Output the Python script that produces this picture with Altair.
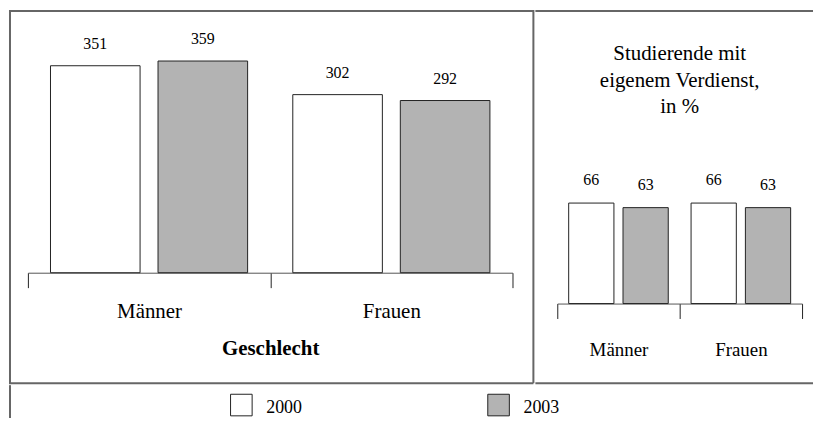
import altair as alt
import pandas as pd

# ---- data -------------------------------------------------------------
groups = ["Männer", "Frauen"]
years = ["2000", "2003"]
income = [351, 359, 302, 292]        # Männer 2000, Männer 2003, Frauen 2000, Frauen 2003
share_pct = [66, 63, 66, 63]         # Studierende mit eigenem Verdienst, in %
right_title = ["Studierende mit", "eigenem Verdienst,", "in %"]
left_axis_title = "Geschlecht"
fill_colors = ["#ffffff", "#b3b3b3"]

FONT = "'Liberation Serif', 'Times New Roman', Times, serif"
BORDER = "#666666"

rows = [(g, y) for g in groups for y in years]
df_left = pd.DataFrame({"Geschlecht": [r[0] for r in rows],
                        "Jahr": [r[1] for r in rows],
                        "Wert": income})
df_right = pd.DataFrame({"Geschlecht": [r[0] for r in rows],
                         "Jahr": [r[1] for r in rows],
                         "Wert": share_pct})
df_one = pd.DataFrame({"k": [0]})
df_years = pd.DataFrame({"Jahr": years})

color = alt.Color("Jahr:N", scale=alt.Scale(domain=years, range=fill_colors), legend=None)


def rule(x=None, x2=None, y=None, y2=None):
    enc = {}
    if x is not None:
        enc["x"] = alt.value(x)
    if x2 is not None:
        enc["x2"] = alt.value(x2)
    if y is not None:
        enc["y"] = alt.value(y)
    if y2 is not None:
        enc["y2"] = alt.value(y2)
    return alt.Chart(df_one).mark_rule(color=BORDER, strokeWidth=2).encode(**enc)


def panel(df, x_range, y_dom, y_rng, offset, lab_size, lab_pad,
          val_size, val_dy, title=None, title_y=None):
    axis_kw = dict(labelFont=FONT, labelFontSize=lab_size, labelColor="black",
                   labelAngle=0, labelPadding=lab_pad, labelBaseline="alphabetic",
                   tickSize=15, tickBand="extent", tickColor="#222222",
                   domainColor="#555555", offset=offset, grid=False)
    if title is not None:
        axis_kw.update(title=title, titleFont=FONT, titleFontSize=21,
                       titleFontWeight="bold", titleColor="black",
                       titleY=title_y, titleBaseline="alphabetic")
    else:
        axis_kw.update(title=None)
    x = alt.X("Geschlecht:N", sort=groups,
              scale=alt.Scale(range=x_range, paddingInner=0, paddingOuter=0),
              axis=alt.Axis(**axis_kw))
    xo = alt.XOffset("Jahr:N", sort=years,
                     scale=alt.Scale(paddingInner=0.167, paddingOuter=0.21))
    y = alt.Y("Wert:Q", scale=alt.Scale(domain=y_dom, range=y_rng), axis=None)
    base = alt.Chart(df)
    bars = base.mark_bar(stroke="#222222", strokeWidth=1).encode(
        x=x, xOffset=xo, y=y, color=color)
    vals = base.mark_text(font=FONT, fontSize=val_size, color="black",
                          baseline="alphabetic", dy=val_dy).encode(
        x=x, xOffset=xo, y=y, text="Wert:Q")
    return bars, vals


# left panel: page x 8..535, y 8..383
lb, lv = panel(df_left, [19, 506], [0, 445.5], [264, 0], -111, 21, 30,
               16, -17, title=left_axis_title, title_y=82)
left = alt.layer(
    lb, lv,
    rule(x=0, x2=527, y=1), rule(x=1, y=0, y2=375),
    rule(x=527, y=0, y2=375), rule(x=0, x2=527, y=375),
).properties(width=527, height=375)

# right panel: page x 535..814
rb, rv = panel(df_right, [22, 268], [0, 192.8], [295, 0], -80, 19, 37,
               16, -18)
rtitle = alt.Chart(df_one).mark_text(font=FONT, fontSize=21, lineHeight=27,
                                     align="center", baseline="alphabetic",
                                     color="black").encode(
    x=alt.value(145), y=alt.value(50), text=alt.value(right_title))
right = alt.layer(
    rb, rv, rtitle,
    rule(x=0, x2=279, y=1), rule(x=0, x2=279, y=375),
).properties(width=279, height=375)

# legend row
lx = alt.X("Jahr:N", sort=years,
           scale=alt.Scale(type="point", range=[233.5, 492], padding=0), axis=None)
boxes = alt.Chart(df_years).mark_square(size=470, stroke="#222222", strokeWidth=1,
                                        opacity=1, filled=True).encode(
    x=lx, y=alt.value(20), color=color)
labels = alt.Chart(df_years).mark_text(font=FONT, fontSize=18, color="black",
                                       align="left", baseline="alphabetic",
                                       dx=25, dy=8).encode(
    x=lx, y=alt.value(20), text="Jahr:N")
legend = alt.layer(boxes, labels, rule(x=1, y=0, y2=33)).properties(width=806, height=33)

top = alt.hconcat(left, right, spacing=0).resolve_scale(
    x="independent", xOffset="independent", y="independent")

chart = alt.vconcat(
    top,
    legend,
    spacing=0,
).resolve_scale(x="independent", y="independent").properties(
    padding=0).configure_view(stroke=None)

chart.save("out.html", embed_options={"renderer": "svg", "actions": False})
